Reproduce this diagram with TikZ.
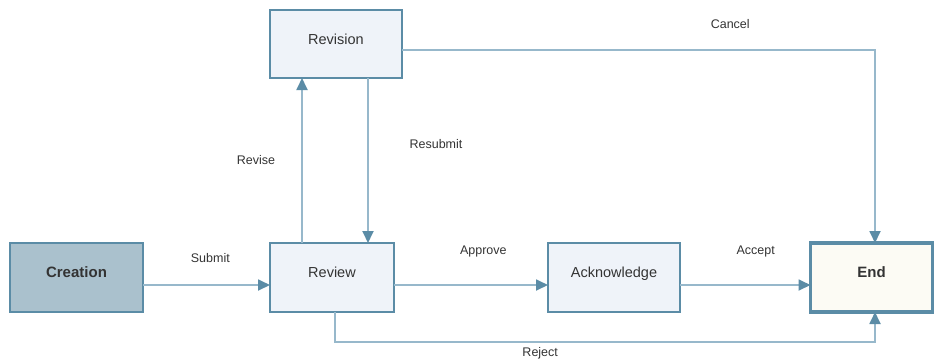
\documentclass[tikz,border=0pt]{standalone}
\usepackage{fontspec}
\setmainfont{Liberation Sans}
\usetikzlibrary{arrows.meta}
\definecolor{edgeblue}{HTML}{5B8CA6}
\definecolor{lineblue}{HTML}{97B8CB}
\definecolor{startfill}{HTML}{AAC1CD}
\definecolor{boxfill}{HTML}{EFF3F9}
\definecolor{endfill}{HTML}{FCFBF4}
\definecolor{labelgray}{HTML}{333333}
\tikzset{
    box/.style={draw=edgeblue, line width=1.8pt, fill=boxfill, minimum height=69pt,
        inner sep=0pt, outer sep=0pt, text height=10pt, text depth=10pt,
        font=\fontsize{14.5}{17}\selectfont, text=labelgray},
    flow/.style={draw=lineblue, line width=1.8pt,
        -{Triangle[length=12pt,width=11pt,color=edgeblue]}},
    lbl/.style={font=\fontsize{12.5}{15}\selectfont, text=labelgray}
}

\begin{document}
\begin{tikzpicture}[x=1pt,y=-1pt]
    \useasboundingbox (0,0) rectangle (935,360);
    % states
    \node[box, fill=startfill, minimum width=133pt, font=\fontsize{15}{17}\selectfont\bfseries] (creation) at (76.5,277.5) {Creation};
    \node[box, minimum width=124pt] (review) at (332,277.5) {Review};
    \node[box, minimum width=132pt, minimum height=68pt] (revision) at (336,44) {Revision};
    \node[box, minimum width=132pt] (ack) at (614,277.5) {Acknowledge};
    \node[box, fill=endfill, line width=3.2pt, minimum width=122pt, font=\fontsize{15}{17}\selectfont\bfseries] (end) at (871.5,277.5) {End};
    % transitions
    \draw[flow] ([yshift=-7.5pt]creation.east) -- node[lbl, pos=0.53, yshift=27pt] {Submit} ([yshift=-7.5pt]review.west);
    \draw[flow] ([xshift=-30pt]review.north) -- node[lbl, pos=0.5, xshift=-46pt] {Revise} ([xshift=-30pt]review.north |- revision.south);
    \draw[flow] ([xshift=32pt]revision.south) -- node[lbl, pos=0.4, xshift=68pt] {Resubmit} ([xshift=32pt]revision.south |- review.north);
    \draw[flow] ([yshift=-6pt]revision.east) -| node[lbl, pos=0.347, yshift=26pt] {Cancel} ([xshift=3.5pt]end.north);
    \draw[flow] ([yshift=-7.5pt]review.east) -- node[lbl, pos=0.58, yshift=34pt] {Approve} ([yshift=-7.5pt]ack.west);
    \draw[flow] ([yshift=-7.5pt]ack.east) -- node[lbl, pos=0.58, yshift=34pt] {Accept} ([yshift=-7.5pt]end.west);
    \draw[flow] ([xshift=3pt]review.south) -- ++(0,30) -| node[lbl, pos=0.19, yshift=-11pt] {Reject} ([xshift=3.5pt]end.south);
\end{tikzpicture}
\end{document}
